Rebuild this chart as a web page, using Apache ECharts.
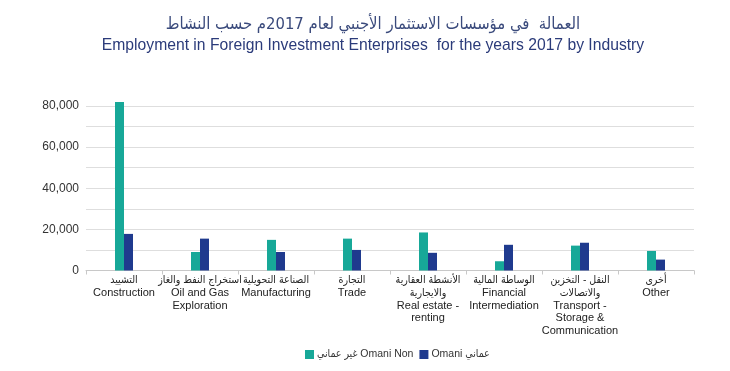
<!DOCTYPE html>
<html>
<head>
<meta charset="utf-8">
<script src="https://cdn.jsdelivr.net/npm/echarts@6/dist/echarts.min.js"></script>
<style>html,body{margin:0;padding:0;background:#fff;}#c{width:730px;height:371px;}</style>
</head>
<body>
<div id="c"></div>
<script>
const categories = [
  "التشييد\nConstruction",
  "استخراج النفط والغاز\nOil and Gas\nExploration",
  "الصناعة التحويلية\nManufacturing",
  "التجارة\nTrade",
  "الأنشطة العقارية\nوالايجارية\nReal estate -\nrenting",
  "الوساطة المالية\nFinancial\nIntermediation",
  "النقل - التخزين\nوالاتصالات\nTransport -\nStorage &\nCommunication",
  "أخرى\nOther"
];
const nonOmani = [82000, 9000, 14900, 15500, 18500, 4500, 12100, 9500];
const omani = [17800, 15500, 9000, 10000, 8600, 12500, 13500, 5300];
const yTicks = [0, 20000, 40000, 60000, 80000];
const seriesNames = ["غير عماني Omani Non", "Omani عماني"];
const titleAr = "العمالة  في مؤسسات الاستثمار الأجنبي لعام 2017م حسب النشاط";
const titleEn = "Employment in Foreign Investment Enterprises  for the years 2017 by Industry";

const chart = echarts.init(document.getElementById('c'));
const fontFam = "'Liberation Sans', Arial, sans-serif";
const arFam = "'DejaVu Sans Condensed', 'DejaVu Sans', sans-serif";
const isAr = s => /[\u0600-\u06FF]/.test(s);
chart.setOption({
  animation: false,
  backgroundColor: '#fff',
  graphic: [
    {type: 'text', x: 373, y: 25, style: {text: titleAr, fill: '#3a4a7c', font: "16.5px " + arFam, textAlign: 'center', textVerticalAlign: 'middle'}},
    {type: 'text', x: 373, y: 46, style: {text: titleEn, fill: '#2b3b7a', font: "15.7px " + fontFam, textAlign: 'center', textVerticalAlign: 'middle'}}
  ],
  legend: {
    data: seriesNames,
    left: 300,
    top: 344,
    icon: 'rect',
    itemWidth: 9,
    itemHeight: 9,
    itemGap: 6,
    textStyle: {fontSize: 10.5, color: '#333', fontFamily: "'Liberation Sans', " + arFam, padding: [0, 0, 0, -2]}
  },
  grid: {left: 86, right: 36, top: 106, bottom: 100.5, containLabel: false},
  xAxis: {
    type: 'category',
    data: categories,
    axisLine: {lineStyle: {color: '#c8c8c8'}},
    axisTick: {show: true, length: 4, lineStyle: {color: '#c8c8c8'}},
    axisLabel: {
      interval: 0, margin: 4, fontSize: 11, lineHeight: 12.5, color: '#222', fontFamily: fontFam,
      formatter: v => v.split('\n').map(l => isAr(l) ? '{ar|' + l + '}' : '{en|' + l + '}').join('\n'),
      rich: {
        ar: {fontFamily: arFam, fontSize: 10.5, lineHeight: 12.5, color: '#222'},
        en: {fontFamily: fontFam, fontSize: 11, lineHeight: 12.5, color: '#222'}
      }
    }
  },
  yAxis: {
    type: 'value',
    min: 0, max: 80000, interval: 10000,
    axisLine: {show: false},
    axisTick: {show: false},
    splitLine: {lineStyle: {color: '#dedede'}},
    axisLabel: {
      margin: 7, fontSize: 12, color: '#333', fontFamily: fontFam,
      formatter: v => yTicks.includes(v) ? v.toLocaleString('en-US') : ''
    }
  },
  series: [
    {name: seriesNames[0], type: 'bar', data: nonOmani, barWidth: 9, barGap: '0%', clip: false, itemStyle: {color: '#17a898'}},
    {name: seriesNames[1], type: 'bar', data: omani, barWidth: 9, barGap: '0%', clip: false, itemStyle: {color: '#1f3a8e'}}
  ]
});
</script>
</body>
</html>
